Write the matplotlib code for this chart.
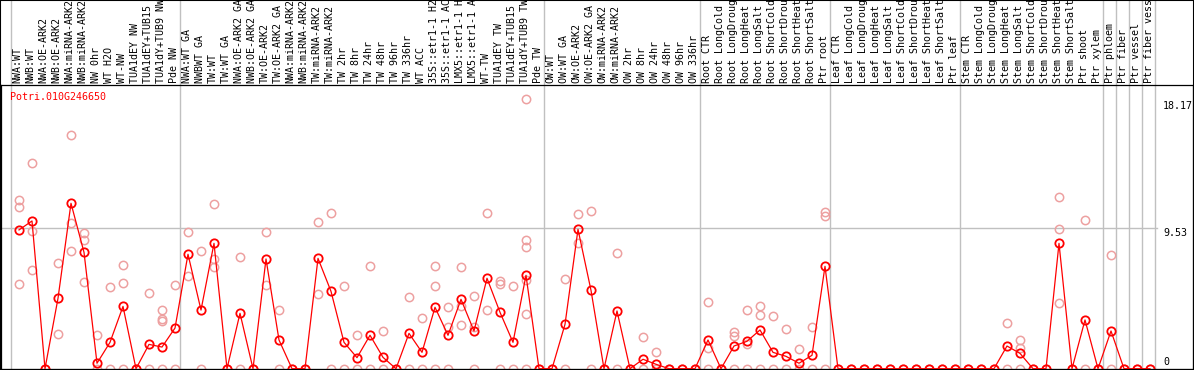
import matplotlib
matplotlib.use("Agg")
import matplotlib.pyplot as plt
import matplotlib.transforms as mtransforms
from matplotlib.patches import Rectangle

# ---------------- data ----------------
labels = [
    "NWA:WT", "NWB:WT", "NWA:OE-ARK2", "NWB:OE-ARK2", "NWA:miRNA-ARK2", "NWB:miRNA-ARK2",
    "NW 0hr", "WT H2O", "WT-NW", "TUA1dEY NW", "TUA1dEY+TUB15 NW", "TUA1dY+TUB9 NW", "Pde NW",
    "NWA:WT GA", "NWBWT GA", "TW:WT", "TW:WT GA", "NWA:OE-ARK2 GA", "NWB:OE-ARK2 GA",
    "TW:OE-ARK2", "TW:OE-ARK2 GA", "NWA:miRNA-ARK2", "NWB:miRNA-ARK2", "TW:miRNA-ARK2",
    "TW:miRNA-ARK2", "TW 2hr", "TW 8hr", "TW 24hr", "TW 48hr", "TW 96hr", "TW 336hr",
    "WT ACC", "35S::etr1-1 H2O", "35S::etr1-1 ACC", "LMX5::etr1-1 H2O", "LMX5::etr1-1 ACC",
    "WT-TW", "TUA1dEY TW", "TUA1dEY+TUB15 TW", "TUA1dY+TUB9 TW", "Pde TW",
    "OW:WT", "OW:WT GA", "OW:OE-ARK2", "OW:OE-ARK2 GA", "OW:miRNA-ARK2", "OW:miRNA-ARK2",
    "OW 2hr", "OW 8hr", "OW 24hr", "OW 48hr", "OW 96hr", "OW 336hr",
    "Root CTR", "Root LongCold", "Root LongDrought", "Root LongHeat", "Root LongSalt",
    "Root ShortCold", "Root ShortDrought", "Root ShortHeat", "Root ShortSalt", "Ptr root",
    "Leaf CTR", "Leaf LongCold", "Leaf LongDrought", "Leaf LongHeat", "Leaf LongSalt",
    "Leaf ShortCold", "Leaf ShortDrought", "Leaf ShortHeat", "Leaf ShortSalt", "Ptr leaf",
    "Stem CTR", "Stem LongCold", "Stem LongDrought", "Stem LongHeat", "Stem LongSalt",
    "Stem ShortCold", "Stem ShortDrought", "Stem ShortHeat", "Stem ShortSalt",
    "Ptr shoot", "Ptr xylem", "Ptr phloem", "Ptr fiber", "Ptr vessel", "Ptr fiber vessel",
]

means = [
    9.42, 10.03, 0, 4.78, 11.23, 7.90, 0.37, 1.79, 4.23, 0, 1.65, 1.47, 2.76,
    7.77, 3.98, 8.51, 0, 3.76, 0, 7.45, 1.95, 0, 0, 7.49, 5.25, 1.79, 0.75, 2.27,
    0.77, 0, 2.40, 1.11, 4.17, 2.27, 4.71, 2.56, 6.14, 3.83, 1.79, 6.34, 0,
    0, 3.01, 9.46, 5.32, 0, 3.92, 0, 0.64, 0.30, 0, 0, 0,
    1.95, 0, 1.54, 1.86, 2.63, 1.11, 0.84, 0.37, 0.91, 6.95,
    0, 0, 0, 0, 0, 0, 0, 0, 0, 0,
    0, 0, 0, 1.54, 1.04, 0, 0, 8.51, 0, 3.31, 0, 2.56, 0, 0, 0,
]

replicates = [
    [11.45, 10.96, 5.75], [13.94, 9.35, 6.70], [0], [7.15, 2.33], [15.87, 9.91, 7.97],
    [9.19, 8.72, 5.89], [2.27, 0], [5.52, 0], [7.02, 5.82, 0], [0], [5.14, 0],
    [3.98, 3.37, 3.22, 0], [5.68, 0],
    [9.26, 6.27], [7.97, 0], [11.16, 7.45, 6.93], [0], [7.58, 0], [0], [9.26, 5.66],
    [3.98, 0], [0], [0], [9.94, 5.05], [10.55, 0], [5.59, 0], [2.27, 0], [6.95, 0],
    [2.56, 0], [0], [4.85, 0], [3.42, 0], [6.95, 5.59, 0], [4.17, 2.85, 0],
    [6.88, 4.26, 2.95], [4.91, 2.81, 0], [10.55, 3.98], [5.93, 5.75, 0], [5.59, 0],
    [18.3, 8.72, 8.28, 6.02, 3.69, 0], [0],
    [0], [6.07, 0], [10.50, 8.51], [10.71, 0], [0], [7.83, 0], [0], [2.13, 0],
    [1.11, 0], [0], [0], [0],
    [4.51, 1.38, 0], [0], [2.47, 2.20, 0], [3.98, 1.65, 0], [4.23, 3.62, 0], [3.56, 0],
    [2.67, 0], [1.34, 0], [2.81, 0], [10.62, 10.37, 0],
    [0], [0], [0], [0], [0], [0], [0], [0], [0], [0],
    [0], [0], [0], [3.08, 0], [1.95, 1.38, 0], [0], [0], [11.63, 9.46, 4.44], [0],
    [10.07, 0], [0], [7.72, 0], [0], [0], [0],
]

group_starts = [0, 13, 41, 53, 63, 73, 84, 85, 86, 87, 88]
gene_name = "Potri.010G246650"
y_marks = [18.17, 9.53]

# ---------------- layout ----------------
W, H = 1194, 370
L, R, T, B = 1, 1193, 85, 369
fig = plt.figure(figsize=(W / 100, H / 100), dpi=100)
ax = fig.add_axes([L / W, 1 - B / H, (R - L) / W, (B - T) / H])

xs = 13.0
x0 = -(19 - L) / xs
ax.set_xlim(x0, x0 + (R - L) / xs)
ky = 14.73
y0 = -(B - 368.7) / ky
ax.set_ylim(y0, y0 + (B - T) / ky)

ax.set_xticks([])
ax.set_yticks([])
for s in ax.spines.values():
    s.set_color("black")
    s.set_linewidth(0.9)

mono = "DejaVu Sans Mono"
fs = 7.2
grid_c = "#c0c0c0"

# vertical group separators (extend through header)
top_ext = (B - 0) / (B - T)
for g in group_starts:
    ax.axvline(g - 0.58, ymin=0, ymax=top_ext, color=grid_c, lw=1.0, clip_on=False, zorder=1)

# horizontal gridline at mid value
ax.axhline(y_marks[1], xmin=0, xmax=(1157 - L) / (R - L), color=grid_c, lw=1.0, zorder=1)

# replicate points
rx, ry = [], []
for i, reps in enumerate(replicates):
    for v in reps:
        rx.append(i)
        ry.append(v)
ax.plot(rx, ry, linestyle="none", marker="o", markersize=6, markerfacecolor="none",
        markeredgecolor="#eda0a0", markeredgewidth=1.1, zorder=2)

# mean line
idx = list(range(len(means)))
ax.plot(idx, means, color="#ff0000", lw=0.9, marker="o", markersize=6,
        markerfacecolor="none", markeredgecolor="#ff0000", markeredgewidth=1.3, zorder=3)

# header labels
trans_hdr = mtransforms.blended_transform_factory(ax.transData, ax.transAxes)
for i, lab in enumerate(labels):
    ax.text(i - 0.1, 1 + 2 / (B - T), lab, transform=trans_hdr, rotation=90,
            ha="center", va="bottom", fontsize=fs, family=mono, color="black", clip_on=False)

# value labels on the right
trans_r = mtransforms.blended_transform_factory(ax.transAxes, ax.transData)
xr = (1163 - L) / (R - L)
for v in y_marks:
    ax.text(xr, v, f"{v:.2f}", transform=trans_r, ha="left", va="top",
            fontsize=fs, family=mono, color="black")
ax.text(xr, 0.25, "0", transform=trans_r, ha="left", va="baseline",
        fontsize=fs, family=mono, color="black")

# gene name
ax.text((10 - L) / (R - L), 1 - 7 / (B - T), gene_name, transform=ax.transAxes,
        ha="left", va="top", fontsize=fs, family=mono, color="#ff0000")

# outer border
fig.add_artist(Rectangle((0, 0), 1, 1, transform=fig.transFigure, fill=False,
                         edgecolor="black", lw=1.5, zorder=10))

fig.savefig("out.png", dpi=100)
